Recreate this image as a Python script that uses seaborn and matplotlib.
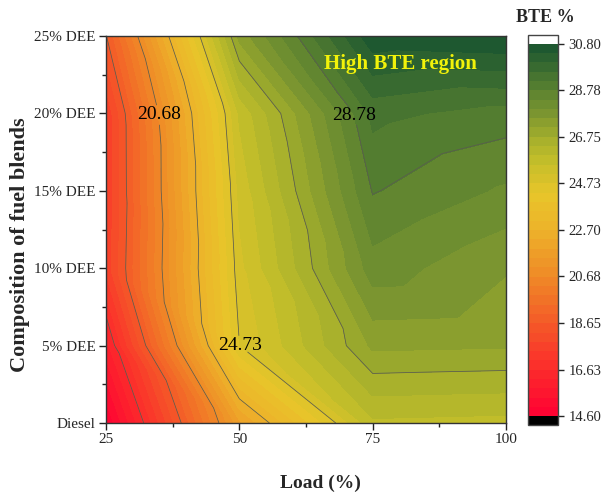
import numpy as np
import matplotlib
matplotlib.use("Agg")
import matplotlib.pyplot as plt
import matplotlib.tri as mtri
from matplotlib.colors import LinearSegmentedColormap
from matplotlib.ticker import MultipleLocator
import seaborn as sns

# engine load (%) and DEE share in blend (%)
load = [25, 50, 75, 100]
dee = [0, 5, 10, 15, 20, 25]
blend_labels = ["Diesel", "5% DEE", "10% DEE", "15% DEE", "20% DEE", "25% DEE"]

# BTE (%), one row per blend (Diesel ... 25% DEE)
bte = [
    [14.60, 21.78, 25.86, 25.80],
    [16.07, 24.72, 27.25, 27.20],
    [17.55, 25.00, 28.19, 27.60],
    [17.46, 25.24, 28.81, 28.30],
    [17.48, 25.60, 29.30, 29.00],
    [18.62, 27.30, 30.70, 30.80],
]

cbar_ticks = [14.60, 16.63, 18.65, 20.68, 22.70, 24.73, 26.75, 28.78, 30.80]
cbar_labels = ["14.60", "16.63", "18.65", "20.68", "22.70", "24.73", "26.75", "28.78", "30.80"]
plain_levels = [16.63, 18.65, 22.70, 26.75]
labelled = [20.68, 24.73, 28.78]
label_pos = [(34.7, 19.9), (49.8, 4.9), (71.7, 19.9)]

sns.set_style("ticks")
plt.rcParams["font.family"] = ["Liberation Serif", "DejaVu Serif"]

# colour ramp red -> orange -> yellow -> olive -> dark green
anchors = [
    (14.60, "#ff0033"), (16.63, "#fc2b2b"), (18.65, "#f45a28"),
    (20.68, "#ef8a27"), (22.70, "#edb22a"), (24.20, "#e8c52a"),
    (25.70, "#c4be2a"), (26.75, "#a2ae2c"), (27.77, "#7c9630"),
    (28.78, "#5b8230"), (29.80, "#3a6b30"), (30.80, "#185430"),
]
lo, hi = 14.60, 30.80
cmap = LinearSegmentedColormap.from_list(
    "bte", [((v - lo) / (hi - lo), c) for v, c in anchors])
cmap.set_over("white")
cmap.set_under("black")

# grid + triangulation (diagonal top-left to bottom-right, like Origin)
X, Y = np.meshgrid(load, dee)
Z = np.array(bte)
nx, ny = len(load), len(dee)
tris = []
for j in range(ny - 1):
    for i in range(nx - 1):
        a = j * nx + i
        b = a + 1
        c = a + nx
        d = c + 1
        tris.append([a, b, c])
        tris.append([b, d, c])
tri = mtri.Triangulation(X.ravel(), Y.ravel(), tris)

fig = plt.figure(figsize=(6.03, 4.95), dpi=100)
ax = fig.add_axes([106 / 603, 72 / 495, 400 / 603, 387 / 495])
cax = fig.add_axes([528 / 603, 70 / 495, 30 / 603, 390 / 495])

levels = np.linspace(lo, hi, 41)
cf = ax.tricontourf(tri, Z.ravel(), levels=levels, cmap=cmap, extend="both")
ax.tricontour(tri, Z.ravel(), levels=plain_levels, colors="#5a5a50",
              linewidths=0.55)
cs = ax.tricontour(tri, Z.ravel(), levels=labelled, colors="#5a5a50",
                   linewidths=0.55)
lbls = ax.clabel(cs, manual=label_pos, fmt="%.2f", fontsize=14,
                 colors="black", inline=True, inline_spacing=-12)
for t in lbls:
    t.set_rotation(0)

ax.text(80.3, 23.2, "High BTE region", color="#f2f20a", fontsize=15,
        fontweight="bold", ha="center", va="center")

ax.set_xlim(25, 100)
ax.set_ylim(0, 25)
ax.set_xticks(load)
ax.set_yticks(dee)
ax.set_yticklabels(blend_labels)
ax.xaxis.set_minor_locator(MultipleLocator(12.5))
ax.yaxis.set_minor_locator(MultipleLocator(2.5))
ax.tick_params(which="major", direction="out", length=5, width=1,
               labelsize=11, pad=2.5, color="#222222")
ax.tick_params(which="minor", direction="out", length=3, width=1,
               color="#222222")
for s in ax.spines.values():
    s.set_color("#333333")
    s.set_linewidth(1)
ax.set_xlabel("Load (%)", fontsize=14, fontweight="bold")
ax.set_ylabel("Composition of fuel blends", fontsize=16, fontweight="bold")
ax.xaxis.set_label_coords(0.535, -0.134)
ax.yaxis.set_label_coords(-0.19, 0.46)

cb = fig.colorbar(cf, cax=cax, extend="both", extendrect=True,
                  extendfrac=0.023)
cb.set_ticks(cbar_ticks)
cb.set_ticklabels(cbar_labels)
cb.ax.tick_params(labelsize=10.5, length=4, width=1, direction="out")
cb.outline.set_edgecolor("#444444")
cb.outline.set_linewidth(1)
cb.ax.minorticks_off()
fig.text(545 / 603, 1 - 18 / 495, "BTE %", fontsize=13, fontweight="bold",
         ha="center", va="center")

fig.savefig("out.png", dpi=100)
